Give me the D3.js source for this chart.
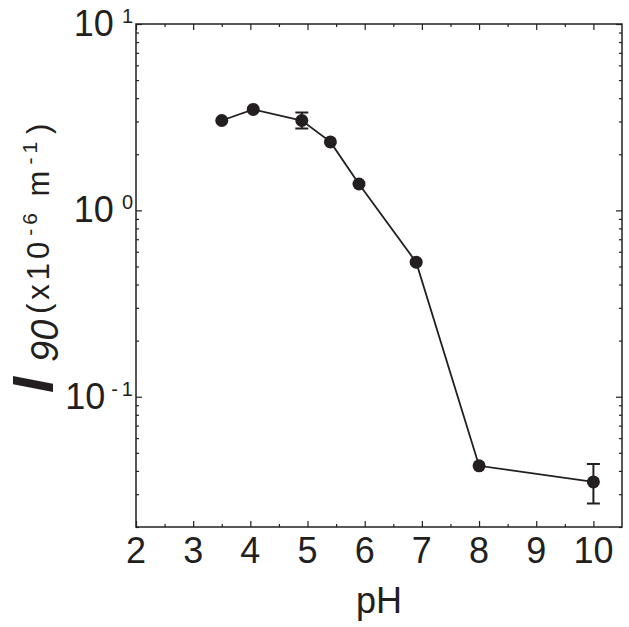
<!DOCTYPE html>
<html>
<head>
<meta charset="utf-8">
<script src="https://cdn.jsdelivr.net/npm/d3@7"></script>
<style>
  body { margin: 0; background: #fff; }
  text { font-family: "Liberation Sans", Arial, sans-serif; fill: #231f20; }
</style>
</head>
<body>
<div class="chart"></div>
<script>
// data
const phValues = [3.5, 4.05, 4.9, 5.4, 5.9, 6.9, 8.0, 10.0];
const i90Values = [3.035, 3.48, 3.035, 2.33, 1.385, 0.527, 0.0426, 0.0349];
const errLow = [null, null, 2.75, null, null, null, null, 0.0267];
const errHigh = [null, null, 3.35, null, null, null, null, 0.0435];
const xTicks = [2, 3, 4, 5, 6, 7, 8, 9, 10];
const yTicks = [["10", "-1", 0.1], ["10", "0", 1], ["10", "1", 10]];

const W = 629, H = 627;
const margin = {top: 24, right: 7, bottom: 100, left: 136};
const w = W - margin.left - margin.right;
const h = H - margin.top - margin.bottom;
const ink = "#231f20";

const svg = d3.select(".chart")
    .append("svg")
        .attr("width", W)
        .attr("height", H)
    .append("g")
        .attr("transform", "translate(" + margin.left + "," + margin.top + ")");

const x = d3.scaleLinear().domain([2, 10.5]).range([0, w]);
const y = d3.scaleLog().domain([0.02, 10]).range([h, 0]);

// tick positions (major + minor)
const xMinor = d3.range(2.5, 10.5, 1);
const yMinor = [];
[0.01, 0.1, 1].forEach(d => { for (let k = 2; k <= 9; k++) if (d * k >= 0.02) yMinor.push(d * k); });

// axes, ticks drawn inward on all four sides
const ax = (gen, scale, vals, len, tr) => svg.append("g")
    .attr("transform", tr)
    .call(gen(scale).tickValues(vals).tickSize(len).tickFormat(""))
    .call(g => g.select(".domain").remove())
    .call(g => g.selectAll("line").attr("stroke", ink).attr("stroke-width", 1.2));

ax(d3.axisTop, x, xTicks, 6, "translate(0," + h + ")");
ax(d3.axisTop, x, xMinor, 3, "translate(0," + h + ")");
ax(d3.axisBottom, x, xTicks, 6, "translate(0,0)");
ax(d3.axisBottom, x, xMinor, 3, "translate(0,0)");
ax(d3.axisRight, y, yTicks.map(d => d[2]), 6, "translate(0,0)");
ax(d3.axisRight, y, yMinor, 3, "translate(0,0)");
ax(d3.axisLeft, y, yTicks.map(d => d[2]), 6, "translate(" + w + ",0)");
ax(d3.axisLeft, y, yMinor, 3, "translate(" + w + ",0)");

// frame
svg.append("rect")
    .attr("width", w)
    .attr("height", h)
    .attr("fill", "none")
    .attr("stroke", ink)
    .attr("stroke-width", 1.5);

// x tick labels
svg.selectAll(".xlab")
    .data(xTicks)
    .enter()
    .append("text")
        .attr("x", d => x(d))
        .attr("y", h + 36)
        .attr("text-anchor", "middle")
        .style("font-size", "36px")
        .text(d => d);

// y tick labels with superscript
const yl = svg.selectAll(".ylab")
    .data(yTicks)
    .enter()
    .append("text")
        .attr("x", -3)
        .attr("y", d => y(d[2]) + 12)
        .attr("text-anchor", "end")
        .style("font-size", "36px");
yl.append("tspan").text(d => d[0]);
yl.append("tspan")
    .attr("dy", -13)
    .attr("dx", d => d[1] === "-1" ? 6 : 8)
    .style("font-size", "20px")
    .text(d => d[1] === "-1" ? "-\u20091" : d[1]);

// x axis title
svg.append("text")
    .attr("x", w / 2)
    .attr("y", h + 86)
    .attr("text-anchor", "middle")
    .style("font-size", "36px")
    .text("pH");

// y axis title, rotated
svg.append("text")
    .attr("transform", "translate(" + (53 - margin.left) + "," + (393 - margin.top) + ") rotate(-90)")
    .style("font-size", "58px")
    .style("font-style", "italic")
    .style("font-weight", "bold")
    .text("I");
svg.append("text")
    .attr("transform", "translate(" + (58 - margin.left) + "," + (362 - margin.top) + ") rotate(-90)")
    .style("font-size", "38px")
    .style("font-style", "italic")
    .text("90");
const unit = svg.append("text")
    .attr("transform", "translate(" + (49 - margin.left) + "," + (314 - margin.top) + ") rotate(-90)")
    .style("font-size", "31px")
    .style("letter-spacing", "4px");
unit.append("tspan").text("(x10");
unit.append("tspan").attr("dy", -12).attr("dx", 2).style("font-size", "21px").text("-6");
unit.append("tspan").attr("dy", 12).text(" m");
unit.append("tspan").attr("dy", -12).attr("dx", 2).style("font-size", "21px").text("-1");
unit.append("tspan").attr("dy", 12).attr("dx", 4).text(")");

const pts = phValues.map((d, i) => ({ph: d, v: i90Values[i], lo: errLow[i], hi: errHigh[i]}));

// connecting line
svg.append("path")
    .datum(pts)
    .attr("fill", "none")
    .attr("stroke", ink)
    .attr("stroke-width", 1.8)
    .attr("d", d3.line().x(d => x(d.ph)).y(d => y(d.v)));

// error bars
const eb = pts.filter(d => d.lo !== null);
svg.selectAll(".err")
    .data(eb)
    .enter()
    .append("path")
        .attr("fill", "none")
        .attr("stroke", ink)
        .attr("stroke-width", 2)
        .attr("d", d => {
            const cx = x(d.ph), t = y(d.hi), b = y(d.lo);
            return "M" + (cx - 6.5) + "," + t + "H" + (cx + 6.5) +
                "M" + cx + "," + t + "V" + b +
                "M" + (cx - 6.5) + "," + b + "H" + (cx + 6.5);
        });

// points
svg.selectAll("circle")
    .data(pts)
    .enter()
    .append("circle")
        .attr("cx", d => x(d.ph))
        .attr("cy", d => y(d.v))
        .attr("r", 6.5)
        .attr("fill", ink);
</script>
</body>
</html>
